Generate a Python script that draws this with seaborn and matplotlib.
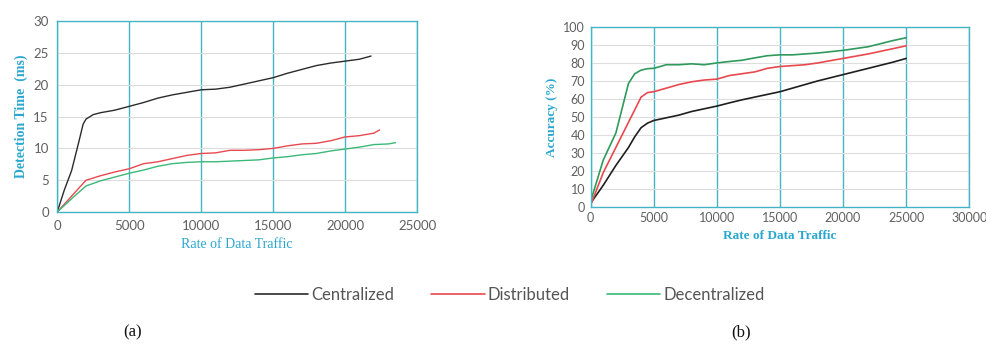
import numpy as np
import pandas as pd
import matplotlib
matplotlib.use("Agg")
import matplotlib.pyplot as plt
import seaborn as sns

SERIES = ["Centralized", "Distributed", "Decentralized"]
COLORS = {"Centralized": "#2b2b2b", "Distributed": "#e8494f", "Decentralized": "#3cb878"}
COLORS_B = {"Centralized": "#1f1f1f", "Distributed": "#e8494f", "Decentralized": "#2f9a5c"}

# (a) detection time
a_cen_x = [0, 500, 1000, 1500, 1800, 2000, 2500, 3000, 4000, 5000, 6000, 7000, 8000, 9000,
           10000, 11000, 12000, 13000, 14000, 15000, 16000, 17000, 18000, 19000, 20000, 21000, 21800]
a_cen_y = [0, 3.5, 6.5, 11.0, 13.8, 14.6, 15.3, 15.6, 16.0, 16.6, 17.2, 17.9, 18.4, 18.8,
           19.2, 19.3, 19.6, 20.1, 20.6, 21.1, 21.8, 22.4, 23.0, 23.4, 23.7, 24.0, 24.5]
a_dis_x = [0, 1000, 2000, 3000, 4000, 5000, 6000, 7000, 8000, 9000, 10000, 11000, 12000,
           13000, 14000, 15000, 16000, 17000, 18000, 19000, 20000, 21000, 22000, 22400]
a_dis_y = [0, 2.5, 5.0, 5.7, 6.3, 6.8, 7.6, 7.9, 8.4, 8.9, 9.2, 9.3, 9.7,
           9.7, 9.8, 10.0, 10.4, 10.7, 10.8, 11.2, 11.8, 12.0, 12.4, 12.9]
a_dec_x = [0, 1000, 2000, 3000, 4000, 5000, 6000, 7000, 8000, 9000, 10000, 11000, 12000,
           13000, 14000, 15000, 16000, 17000, 18000, 19000, 20000, 21000, 22000, 23000, 23500]
a_dec_y = [0, 2.1, 4.1, 4.9, 5.5, 6.1, 6.6, 7.2, 7.6, 7.8, 7.9, 7.9, 8.0,
           8.1, 8.2, 8.5, 8.7, 9.0, 9.2, 9.6, 9.9, 10.2, 10.6, 10.7, 10.9]

# (b) accuracy
b_x = [0, 1000, 2000, 3000, 3500, 4000, 4500, 5000, 6000, 7000, 8000, 9000, 10000, 11000,
       12000, 13000, 14000, 15000, 16000, 17000, 18000, 20000, 22000, 24000, 25000]
b_cen_y = [2, 12, 23, 33, 39, 44, 46.5, 48, 49.5, 51, 53, 54.5, 56, 57.8,
           59.5, 61, 62.5, 64, 66, 68, 70, 73.5, 77, 80.5, 82.5]
b_dis_y = [1, 19, 33, 47, 54, 61, 63.5, 64, 66, 68, 69.5, 70.5, 71, 73,
           74, 75, 77, 78, 78.5, 79, 80, 82.5, 85, 88, 89.5]
b_dec_y = [3, 26, 41, 68.6, 74, 76, 76.8, 77, 79, 79, 79.5, 79, 80, 80.8,
           81.5, 82.8, 84, 84.5, 84.5, 85, 85.5, 87, 89, 92.5, 94]

TEAL = "#45b5c6"
LABEL = "#2aa7d0"
TICK = "#606060"

df_a = pd.concat([
    pd.DataFrame({"x": a_cen_x, "y": a_cen_y, "s": "Centralized"}),
    pd.DataFrame({"x": a_dis_x, "y": a_dis_y, "s": "Distributed"}),
    pd.DataFrame({"x": a_dec_x, "y": a_dec_y, "s": "Decentralized"}),
])
df_b = pd.concat([
    pd.DataFrame({"x": b_x, "y": b_cen_y, "s": "Centralized"}),
    pd.DataFrame({"x": b_x, "y": b_dis_y, "s": "Distributed"}),
    pd.DataFrame({"x": b_x, "y": b_dec_y, "s": "Decentralized"}),
])

sns.set_theme(style="white")
plt.rcParams["font.family"] = ["Lato", "DejaVu Sans"]

fig = plt.figure(figsize=(9.86, 3.5), dpi=100)
ax_a = fig.add_axes([0.058, 0.394, 0.365, 0.546])
ax_b = fig.add_axes([0.599, 0.409, 0.384, 0.514])


def style_axes(ax, xmax, ymax, ystep):
    ax.set_xlim(0, xmax)
    ax.set_ylim(0, ymax)
    ax.set_xticks(np.arange(0, xmax + 1, 5000))
    ax.set_yticks(np.arange(0, ymax + 1, ystep))
    ax.xaxis.grid(True, color=TEAL, lw=1.0)
    ax.yaxis.grid(True, color="#dddddd", lw=0.8)
    ax.set_axisbelow(True)
    for sp in ax.spines.values():
        sp.set_color(TEAL)
        sp.set_linewidth(1.0)
    ax.tick_params(axis="both", colors=TICK, labelsize=9.5, length=0, pad=6)


sns.lineplot(data=df_a, x="x", y="y", hue="s", hue_order=SERIES, palette=COLORS,
             sort=False, estimator=None, lw=1.0, ax=ax_a, legend=False)
style_axes(ax_a, 25000, 30, 5)
ax_a.set_xlabel("Rate of Data Traffic", family="Liberation Serif", color=LABEL, fontsize=10)
ax_a.set_ylabel("Detection Time  (ms)", family="Liberation Serif", color=LABEL,
                fontsize=10, fontweight="bold")

sns.lineplot(data=df_b, x="x", y="y", hue="s", hue_order=SERIES, palette=COLORS_B,
             sort=False, estimator=None, lw=1.2, ax=ax_b, legend=False)
style_axes(ax_b, 30000, 100, 10)
ax_b.tick_params(axis="both", labelsize=9, pad=4)
ax_b.set_xlabel("Rate of Data Traffic", family="Liberation Serif", color=LABEL,
                fontsize=9.5, fontweight="bold")
ax_b.set_ylabel("Accuracy (%)", family="Liberation Serif", color=LABEL,
                fontsize=9.5, fontweight="bold")

handles = [plt.Line2D([], [], color=COLORS[s], lw=1.2) for s in SERIES]
fig.legend(handles, SERIES, loc="center", bbox_to_anchor=(0.517, 0.157), ncol=3,
           frameon=False, fontsize=12, handlelength=3.2, handletextpad=0.2,
           columnspacing=2.2, labelcolor="#555555")

fig.text(0.134, 0.04, "(a)", family="Liberation Serif", fontsize=12, ha="center", color="#111111")
fig.text(0.752, 0.04, "(b)", family="Liberation Serif", fontsize=12, ha="center", color="#111111")

fig.savefig("out.png", dpi=100)
